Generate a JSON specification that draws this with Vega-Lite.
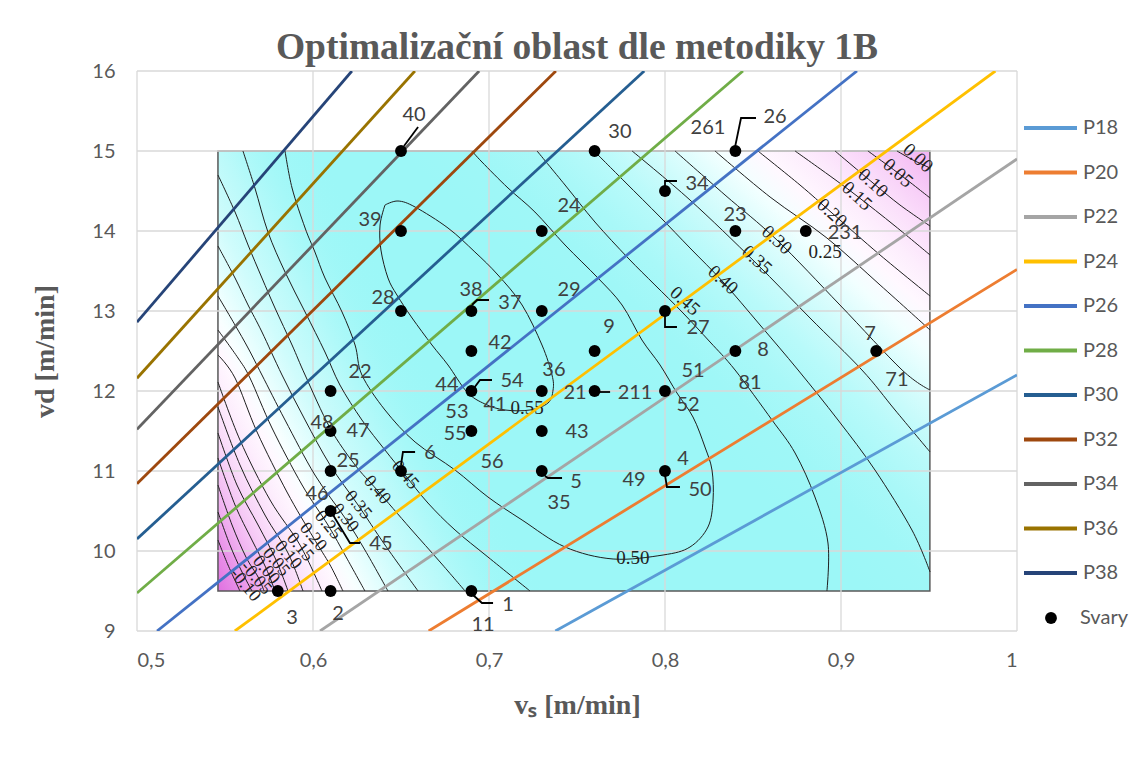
{
  "$schema": "https://vega.github.io/schema/vega-lite/v6.json",
  "width": 880,
  "height": 560,
  "autosize": {"type": "none"},
  "padding": {"left": 137, "top": 71, "right": 117, "bottom": 131},
  "background": "white",
  "config": {
    "view": {"stroke": null},
    "font": "Lato",
    "axis": {"grid": false, "ticks": false, "domain": false, "labelFont": "Lato", "labelFontSize": 20, "labelColor": "#595959",
      "titleFont": "Liberation Serif", "titleFontSize": 28, "titleFontWeight": "bold", "titleColor": "#595959"},
    "axisX": {"labelPadding": 19, "titlePadding": 21},
    "axisY": {"labelPadding": 22, "titlePadding": 32}
  },
  "title": {"text": "Optimalizační oblast dle metodiky 1B", "font": "Liberation Serif", "fontSize": 37.5, "fontWeight": "bold", "color": "#595959", "anchor": "middle", "offset": 0, "dy": 5},
  "datasets": {
    "heat": [{"x": 0.546, "x2": 0.9505, "y": 9.5, "y2": 15}],
    "heat2": [{"x": 0.546, "x2": 0.7483, "y": 9.5, "y2": 15}],
    "gx": [{"v": 0.5}, {"v": 0.6}, {"v": 0.7}, {"v": 0.8}, {"v": 0.9}, {"v": 1.0}],
    "gy": [{"v": 9}, {"v": 10}, {"v": 11}, {"v": 12}, {"v": 13}, {"v": 14}, {"v": 15}, {"v": 16}],
    "cont": [
      {"c": "c55", "o": 1, "x": 0.6409, "y": 14.325}, {"c": "c55", "o": 2, "x": 0.6483, "y": 14.375}, {"c": "c55", "o": 3, "x": 0.658, "y": 14.3}, {"c": "c55", "o": 4, "x": 0.6767, "y": 14.0375}, {"c": "c55", "o": 5, "x": 0.692, "y": 13.7375}, {"c": "c55", "o": 6, "x": 0.7051, "y": 13.45}, {"c": "c55", "o": 7, "x": 0.7188, "y": 13.075}, {"c": "c55", "o": 8, "x": 0.7301, "y": 12.575}, {"c": "c55", "o": 9, "x": 0.7358, "y": 12.2}, {"c": "c55", "o": 10, "x": 0.7364, "y": 12.0125}, {"c": "c55", "o": 11, "x": 0.7335, "y": 11.85}, {"c": "c55", "o": 12, "x": 0.7233, "y": 11.7625}, {"c": "c55", "o": 13, "x": 0.7091, "y": 11.7625}, {"c": "c55", "o": 14, "x": 0.6977, "y": 11.8375}, {"c": "c55", "o": 15, "x": 0.6875, "y": 11.9875}, {"c": "c55", "o": 16, "x": 0.6767, "y": 12.325}, {"c": "c55", "o": 17, "x": 0.6676, "y": 12.575}, {"c": "c55", "o": 18, "x": 0.6563, "y": 12.9125}, {"c": "c55", "o": 19, "x": 0.6477, "y": 13.2}, {"c": "c55", "o": 20, "x": 0.6426, "y": 13.4125}, {"c": "c55", "o": 21, "x": 0.6386, "y": 13.7625}, {"c": "c55", "o": 22, "x": 0.6381, "y": 14.075}, {"c": "c55", "o": 23, "x": 0.6409, "y": 14.325},
      {"c": "c50", "o": 1, "x": 0.5841, "y": 15}, {"c": "c50", "o": 2, "x": 0.5881, "y": 14.5375}, {"c": "c50", "o": 3, "x": 0.5955, "y": 14.0375}, {"c": "c50", "o": 4, "x": 0.6011, "y": 13.7375}, {"c": "c50", "o": 5, "x": 0.6068, "y": 13.4125}, {"c": "c50", "o": 6, "x": 0.6165, "y": 12.9875}, {"c": "c50", "o": 7, "x": 0.6239, "y": 12.575}, {"c": "c50", "o": 8, "x": 0.6278, "y": 12.2}, {"c": "c50", "o": 9, "x": 0.6409, "y": 11.7625}, {"c": "c50", "o": 10, "x": 0.658, "y": 11.3625}, {"c": "c50", "o": 11, "x": 0.6807, "y": 11.0125}, {"c": "c50", "o": 12, "x": 0.6994, "y": 10.675}, {"c": "c50", "o": 13, "x": 0.7188, "y": 10.3875}, {"c": "c50", "o": 14, "x": 0.7432, "y": 10.05}, {"c": "c50", "o": 15, "x": 0.7705, "y": 9.9}, {"c": "c50", "o": 16, "x": 0.7989, "y": 9.95}, {"c": "c50", "o": 17, "x": 0.8142, "y": 10.05}, {"c": "c50", "o": 18, "x": 0.8244, "y": 10.3}, {"c": "c50", "o": 19, "x": 0.8273, "y": 10.6375}, {"c": "c50", "o": 20, "x": 0.8267, "y": 11.0125}, {"c": "c50", "o": 21, "x": 0.8227, "y": 11.3}, {"c": "c50", "o": 22, "x": 0.8159, "y": 11.675}, {"c": "c50", "o": 23, "x": 0.8068, "y": 11.975}, {"c": "c50", "o": 24, "x": 0.7972, "y": 12.325}, {"c": "c50", "o": 25, "x": 0.7869, "y": 12.6375}, {"c": "c50", "o": 26, "x": 0.7756, "y": 13.075}, {"c": "c50", "o": 27, "x": 0.7619, "y": 13.4125}, {"c": "c50", "o": 28, "x": 0.7432, "y": 13.825}, {"c": "c50", "o": 29, "x": 0.7261, "y": 14.2375}, {"c": "c50", "o": 30, "x": 0.7108, "y": 14.5375}, {"c": "c50", "o": 31, "x": 0.696, "y": 14.8625}, {"c": "c50", "o": 32, "x": 0.6903, "y": 15},
      {"c": "a45", "o": 1, "x": 0.5602, "y": 15}, {"c": "a45", "o": 2, "x": 0.567, "y": 14.5375}, {"c": "a45", "o": 3, "x": 0.5744, "y": 13.9875}, {"c": "a45", "o": 4, "x": 0.5841, "y": 13.4875}, {"c": "a45", "o": 5, "x": 0.5955, "y": 12.9875}, {"c": "a45", "o": 6, "x": 0.6068, "y": 12.4875}, {"c": "a45", "o": 7, "x": 0.6153, "y": 12.075}, {"c": "a45", "o": 8, "x": 0.6278, "y": 11.6375}, {"c": "a45", "o": 9, "x": 0.6409, "y": 11.2625}, {"c": "a45", "o": 10, "x": 0.6523, "y": 10.95}, {"c": "a45", "o": 11, "x": 0.6653, "y": 10.6}, {"c": "a45", "o": 12, "x": 0.6807, "y": 10.2625}, {"c": "a45", "o": 13, "x": 0.6994, "y": 9.925}, {"c": "a45", "o": 14, "x": 0.7233, "y": 9.5},
      {"c": "b45", "o": 1, "x": 0.7273, "y": 15}, {"c": "b45", "o": 2, "x": 0.7432, "y": 14.575}, {"c": "b45", "o": 3, "x": 0.7602, "y": 14.1125}, {"c": "b45", "o": 4, "x": 0.779, "y": 13.6625}, {"c": "b45", "o": 5, "x": 0.7943, "y": 13.325}, {"c": "b45", "o": 6, "x": 0.8097, "y": 12.9875}, {"c": "b45", "o": 7, "x": 0.8256, "y": 12.6125}, {"c": "b45", "o": 8, "x": 0.8398, "y": 12.2625}, {"c": "b45", "o": 9, "x": 0.8608, "y": 11.6375}, {"c": "b45", "o": 10, "x": 0.8739, "y": 11.225}, {"c": "b45", "o": 11, "x": 0.8852, "y": 10.675}, {"c": "b45", "o": 12, "x": 0.8926, "y": 10.1}, {"c": "b45", "o": 13, "x": 0.892, "y": 9.5},
      {"c": "b40", "o": 1, "x": 0.7597, "y": 15}, {"c": "b40", "o": 2, "x": 0.7773, "y": 14.6125}, {"c": "b40", "o": 3, "x": 0.7972, "y": 14.175}, {"c": "b40", "o": 4, "x": 0.8142, "y": 13.7875}, {"c": "b40", "o": 5, "x": 0.833, "y": 13.3625}, {"c": "b40", "o": 6, "x": 0.854, "y": 12.825}, {"c": "b40", "o": 7, "x": 0.8756, "y": 12.2625}, {"c": "b40", "o": 8, "x": 0.8983, "y": 11.6375}, {"c": "b40", "o": 9, "x": 0.9193, "y": 11.0125}, {"c": "b40", "o": 10, "x": 0.9403, "y": 10.2625}, {"c": "b40", "o": 11, "x": 0.9506, "y": 9.7375},
      {"c": "b35", "o": 1, "x": 0.7813, "y": 15}, {"c": "b35", "o": 2, "x": 0.8142, "y": 14.3875}, {"c": "b35", "o": 3, "x": 0.8511, "y": 13.6125}, {"c": "b35", "o": 4, "x": 0.8824, "y": 12.9125}, {"c": "b35", "o": 5, "x": 0.9119, "y": 12.2625}, {"c": "b35", "o": 6, "x": 0.9307, "y": 11.7625}, {"c": "b35", "o": 7, "x": 0.9506, "y": 11.2375},
      {"c": "b30", "o": 1, "x": 0.8057, "y": 15}, {"c": "b30", "o": 2, "x": 0.8341, "y": 14.45}, {"c": "b30", "o": 3, "x": 0.8636, "y": 13.8875}, {"c": "b30", "o": 4, "x": 0.8994, "y": 13.075}, {"c": "b30", "o": 5, "x": 0.9347, "y": 12.2625}, {"c": "b30", "o": 6, "x": 0.9506, "y": 12.0125},
      {"c": "b25", "o": 1, "x": 0.8284, "y": 15}, {"c": "b25", "o": 2, "x": 0.8597, "y": 14.425}, {"c": "b25", "o": 3, "x": 0.892, "y": 13.9125}, {"c": "b25", "o": 4, "x": 0.9222, "y": 13.325}, {"c": "b25", "o": 5, "x": 0.9506, "y": 12.7625},
      {"c": "b20", "o": 1, "x": 0.8528, "y": 15}, {"c": "b20", "o": 2, "x": 0.8767, "y": 14.575}, {"c": "b20", "o": 3, "x": 0.8949, "y": 14.225}, {"c": "b20", "o": 4, "x": 0.9222, "y": 13.7}, {"c": "b20", "o": 5, "x": 0.9506, "y": 13.1875},
      {"c": "b15", "o": 1, "x": 0.8739, "y": 15}, {"c": "b15", "o": 2, "x": 0.8938, "y": 14.6875}, {"c": "b15", "o": 3, "x": 0.9091, "y": 14.4375}, {"c": "b15", "o": 4, "x": 0.9307, "y": 14.0625}, {"c": "b15", "o": 5, "x": 0.9506, "y": 13.7},
      {"c": "b10", "o": 1, "x": 0.8966, "y": 15}, {"c": "b10", "o": 2, "x": 0.9182, "y": 14.6}, {"c": "b10", "o": 3, "x": 0.9335, "y": 14.325}, {"c": "b10", "o": 4, "x": 0.9506, "y": 14.0625},
      {"c": "b05", "o": 1, "x": 0.9153, "y": 15}, {"c": "b05", "o": 2, "x": 0.9324, "y": 14.725}, {"c": "b05", "o": 3, "x": 0.9506, "y": 14.4125},
      {"c": "b00", "o": 1, "x": 0.9318, "y": 15}, {"c": "b00", "o": 2, "x": 0.9409, "y": 14.8875}, {"c": "b00", "o": 3, "x": 0.9506, "y": 14.7875},
      {"c": "a40", "o": 1, "x": 0.546, "y": 14.7}, {"c": "a40", "o": 2, "x": 0.5557, "y": 14.2375}, {"c": "a40", "o": 3, "x": 0.5631, "y": 13.825}, {"c": "a40", "o": 4, "x": 0.571, "y": 13.4125}, {"c": "a40", "o": 5, "x": 0.5784, "y": 13.0375}, {"c": "a40", "o": 6, "x": 0.5881, "y": 12.575}, {"c": "a40", "o": 7, "x": 0.5955, "y": 12.2}, {"c": "a40", "o": 8, "x": 0.6097, "y": 11.5375}, {"c": "a40", "o": 9, "x": 0.6239, "y": 11.075}, {"c": "a40", "o": 10, "x": 0.6364, "y": 10.7625}, {"c": "a40", "o": 11, "x": 0.6551, "y": 10.2875}, {"c": "a40", "o": 12, "x": 0.6722, "y": 9.8625}, {"c": "a40", "o": 13, "x": 0.6864, "y": 9.5},
      {"c": "a35", "o": 1, "x": 0.546, "y": 13.8125}, {"c": "a35", "o": 2, "x": 0.5557, "y": 13.4125}, {"c": "a35", "o": 3, "x": 0.5631, "y": 13.075}, {"c": "a35", "o": 4, "x": 0.571, "y": 12.7375}, {"c": "a35", "o": 5, "x": 0.5824, "y": 12.2}, {"c": "a35", "o": 6, "x": 0.5955, "y": 11.6375}, {"c": "a35", "o": 7, "x": 0.6097, "y": 11.075}, {"c": "a35", "o": 8, "x": 0.6256, "y": 10.575}, {"c": "a35", "o": 9, "x": 0.6409, "y": 10.075}, {"c": "a35", "o": 10, "x": 0.6597, "y": 9.5},
      {"c": "a30", "o": 1, "x": 0.546, "y": 13.1875}, {"c": "a30", "o": 2, "x": 0.5557, "y": 12.825}, {"c": "a30", "o": 3, "x": 0.5631, "y": 12.5375}, {"c": "a30", "o": 4, "x": 0.571, "y": 12.2}, {"c": "a30", "o": 5, "x": 0.5841, "y": 11.6375}, {"c": "a30", "o": 6, "x": 0.6011, "y": 10.95}, {"c": "a30", "o": 7, "x": 0.6182, "y": 10.4125}, {"c": "a30", "o": 8, "x": 0.6295, "y": 10.0125}, {"c": "a30", "o": 9, "x": 0.6426, "y": 9.5},
      {"c": "a25", "o": 1, "x": 0.546, "y": 12.7625}, {"c": "a25", "o": 2, "x": 0.5574, "y": 12.4125}, {"c": "a25", "o": 3, "x": 0.5642, "y": 12.1625}, {"c": "a25", "o": 4, "x": 0.5767, "y": 11.5375}, {"c": "a25", "o": 5, "x": 0.5938, "y": 10.825}, {"c": "a25", "o": 6, "x": 0.6085, "y": 10.325}, {"c": "a25", "o": 7, "x": 0.6188, "y": 9.925}, {"c": "a25", "o": 8, "x": 0.6295, "y": 9.5},
      {"c": "a20", "o": 1, "x": 0.546, "y": 12.45}, {"c": "a20", "o": 2, "x": 0.5557, "y": 12.1625}, {"c": "a20", "o": 3, "x": 0.5682, "y": 11.4875}, {"c": "a20", "o": 4, "x": 0.5852, "y": 10.7375}, {"c": "a20", "o": 5, "x": 0.6, "y": 10.175}, {"c": "a20", "o": 6, "x": 0.6097, "y": 9.825}, {"c": "a20", "o": 7, "x": 0.617, "y": 9.5},
      {"c": "a15", "o": 1, "x": 0.546, "y": 12.1125}, {"c": "a15", "o": 2, "x": 0.5585, "y": 11.3875}, {"c": "a15", "o": 3, "x": 0.5756, "y": 10.6375}, {"c": "a15", "o": 4, "x": 0.5926, "y": 10.075}, {"c": "a15", "o": 5, "x": 0.6051, "y": 9.5},
      {"c": "a10", "o": 1, "x": 0.546, "y": 11.8}, {"c": "a10", "o": 2, "x": 0.5585, "y": 11.075}, {"c": "a10", "o": 3, "x": 0.5727, "y": 10.45}, {"c": "a10", "o": 4, "x": 0.5858, "y": 9.975}, {"c": "a10", "o": 5, "x": 0.5943, "y": 9.5},
      {"c": "a05", "o": 1, "x": 0.546, "y": 11.475}, {"c": "a05", "o": 2, "x": 0.5568, "y": 10.825}, {"c": "a05", "o": 3, "x": 0.5688, "y": 10.325}, {"c": "a05", "o": 4, "x": 0.579, "y": 9.8875}, {"c": "a05", "o": 5, "x": 0.5858, "y": 9.5},
      {"c": "a00", "o": 1, "x": 0.546, "y": 11.1625}, {"c": "a00", "o": 2, "x": 0.5557, "y": 10.575}, {"c": "a00", "o": 3, "x": 0.5653, "y": 10.1375}, {"c": "a00", "o": 4, "x": 0.5733, "y": 9.7875}, {"c": "a00", "o": 5, "x": 0.5784, "y": 9.5},
      {"c": "am05", "o": 1, "x": 0.546, "y": 10.825}, {"c": "am05", "o": 2, "x": 0.554, "y": 10.325}, {"c": "am05", "o": 3, "x": 0.5619, "y": 9.925}, {"c": "am05", "o": 4, "x": 0.5688, "y": 9.675}, {"c": "am05", "o": 5, "x": 0.5722, "y": 9.5},
      {"c": "am10", "o": 1, "x": 0.546, "y": 10.4875}, {"c": "am10", "o": 2, "x": 0.5528, "y": 10.075}, {"c": "am10", "o": 3, "x": 0.5591, "y": 9.7625}, {"c": "am10", "o": 4, "x": 0.5653, "y": 9.5},
      {"c": "am15", "o": 1, "x": 0.546, "y": 10.1375}, {"c": "am15", "o": 2, "x": 0.5517, "y": 9.825}, {"c": "am15", "o": 3, "x": 0.5585, "y": 9.5}
    ],
    "clab": [
      {"g": "ll", "l": "0.45", "x": 0.6523, "y": 10.95}, {"g": "ll", "l": "0.40", "x": 0.6364, "y": 10.7625}, {"g": "ll", "l": "0.35", "x": 0.6256, "y": 10.575}, {"g": "ll", "l": "0.30", "x": 0.6182, "y": 10.4125}, {"g": "ll", "l": "0.25", "x": 0.6085, "y": 10.325}, {"g": "ll", "l": "0.20", "x": 0.6, "y": 10.175}, {"g": "ll", "l": "0.15", "x": 0.5926, "y": 10.05}, {"g": "ll", "l": "0.10", "x": 0.5858, "y": 9.95}, {"g": "ll", "l": "0.05", "x": 0.579, "y": 9.8625}, {"g": "ll", "l": "0.00", "x": 0.5733, "y": 9.7625}, {"g": "ll", "l": "-0.05", "x": 0.5676, "y": 9.6625}, {"g": "ll", "l": "-0.10", "x": 0.5614, "y": 9.575},
      {"g": "ur", "l": "0.45", "x": 0.8114, "y": 13.125}, {"g": "ur", "l": "0.40", "x": 0.833, "y": 13.3875}, {"g": "ur", "l": "0.35", "x": 0.8523, "y": 13.6375}, {"g": "ur", "l": "0.30", "x": 0.8636, "y": 13.8875}, {"g": "ur", "l": "0.20", "x": 0.8949, "y": 14.225}, {"g": "ur", "l": "0.15", "x": 0.9091, "y": 14.4375}, {"g": "ur", "l": "0.10", "x": 0.9182, "y": 14.6}, {"g": "ur", "l": "0.05", "x": 0.9324, "y": 14.725}, {"g": "ur", "l": "0.00", "x": 0.9438, "y": 14.9125},
      {"g": "h", "l": "0.25", "x": 0.891, "y": 13.74}, {"g": "h", "l": "0.50", "x": 0.7818, "y": 9.9125}, {"g": "h", "l": "0.55", "x": 0.7216, "y": 11.7875}
    ],
    "pl": [
      {"s": "P18", "x": 0.7377, "y": 9}, {"s": "P18", "x": 1, "y": 12.2},
      {"s": "P20", "x": 0.6657, "y": 9}, {"s": "P20", "x": 1, "y": 13.52},
      {"s": "P22", "x": 0.604, "y": 9}, {"s": "P22", "x": 1, "y": 14.9},
      {"s": "P24", "x": 0.5556, "y": 9}, {"s": "P24", "x": 0.9877, "y": 16},
      {"s": "P26", "x": 0.5114, "y": 9}, {"s": "P26", "x": 0.9091, "y": 16},
      {"s": "P28", "x": 0.5, "y": 9.475}, {"s": "P28", "x": 0.8443, "y": 16},
      {"s": "P30", "x": 0.5, "y": 10.15}, {"s": "P30", "x": 0.7882, "y": 16},
      {"s": "P32", "x": 0.5, "y": 10.84}, {"s": "P32", "x": 0.738, "y": 16},
      {"s": "P34", "x": 0.5, "y": 11.52}, {"s": "P34", "x": 0.6944, "y": 16},
      {"s": "P36", "x": 0.5, "y": 12.16}, {"s": "P36", "x": 0.6579, "y": 16},
      {"s": "P38", "x": 0.5, "y": 12.86}, {"s": "P38", "x": 0.6221, "y": 16}
    ],
    "lead": [
      {"k": "L40", "o": 1, "x": 0.6517, "y": 15.0625}, {"k": "L40", "o": 2, "x": 0.6597, "y": 15.3},
      {"k": "L26", "o": 1, "x": 0.8398, "y": 15.05}, {"k": "L26", "o": 2, "x": 0.8432, "y": 15.4125}, {"k": "L26", "o": 3, "x": 0.8517, "y": 15.4125},
      {"k": "L34", "o": 1, "x": 0.8, "y": 14.5375}, {"k": "L34", "o": 2, "x": 0.8, "y": 14.625}, {"k": "L34", "o": 3, "x": 0.8068, "y": 14.625},
      {"k": "L37", "o": 1, "x": 0.6903, "y": 13.075}, {"k": "L37", "o": 2, "x": 0.6932, "y": 13.1375}, {"k": "L37", "o": 3, "x": 0.7, "y": 13.1375},
      {"k": "L27", "o": 1, "x": 0.8, "y": 12.9375}, {"k": "L27", "o": 2, "x": 0.8, "y": 12.8}, {"k": "L27", "o": 3, "x": 0.8068, "y": 12.8},
      {"k": "L54", "o": 1, "x": 0.6915, "y": 12.0375}, {"k": "L54", "o": 2, "x": 0.6949, "y": 12.1375}, {"k": "L54", "o": 3, "x": 0.7017, "y": 12.1375},
      {"k": "L211", "o": 1, "x": 0.7602, "y": 11.9875}, {"k": "L211", "o": 2, "x": 0.7688, "y": 11.9875},
      {"k": "L6", "o": 1, "x": 0.65, "y": 11.075}, {"k": "L6", "o": 2, "x": 0.6511, "y": 11.2375}, {"k": "L6", "o": 3, "x": 0.658, "y": 11.2375},
      {"k": "L5", "o": 1, "x": 0.7318, "y": 10.9375}, {"k": "L5", "o": 2, "x": 0.7335, "y": 10.9125}, {"k": "L5", "o": 3, "x": 0.7415, "y": 10.9125},
      {"k": "L50", "o": 1, "x": 0.8, "y": 10.95}, {"k": "L50", "o": 2, "x": 0.8011, "y": 10.8}, {"k": "L50", "o": 3, "x": 0.8085, "y": 10.8},
      {"k": "L45", "o": 1, "x": 0.6114, "y": 10.45}, {"k": "L45", "o": 2, "x": 0.621, "y": 10.1}, {"k": "L45", "o": 3, "x": 0.6267, "y": 10.1},
      {"k": "L1", "o": 1, "x": 0.6903, "y": 9.4625}, {"k": "L1", "o": 2, "x": 0.696, "y": 9.35}, {"k": "L1", "o": 3, "x": 0.7023, "y": 9.35}
    ],
    "pts": [
      {"t": "Svary", "x": 0.65, "y": 15}, {"t": "Svary", "x": 0.76, "y": 15}, {"t": "Svary", "x": 0.84, "y": 15}, {"t": "Svary", "x": 0.8, "y": 14.5},
      {"t": "Svary", "x": 0.65, "y": 14}, {"t": "Svary", "x": 0.73, "y": 14}, {"t": "Svary", "x": 0.84, "y": 14}, {"t": "Svary", "x": 0.88, "y": 14},
      {"t": "Svary", "x": 0.65, "y": 13}, {"t": "Svary", "x": 0.69, "y": 13}, {"t": "Svary", "x": 0.73, "y": 13}, {"t": "Svary", "x": 0.8, "y": 13},
      {"t": "Svary", "x": 0.69, "y": 12.5}, {"t": "Svary", "x": 0.76, "y": 12.5}, {"t": "Svary", "x": 0.84, "y": 12.5}, {"t": "Svary", "x": 0.92, "y": 12.5},
      {"t": "Svary", "x": 0.61, "y": 12}, {"t": "Svary", "x": 0.69, "y": 12}, {"t": "Svary", "x": 0.73, "y": 12}, {"t": "Svary", "x": 0.76, "y": 12}, {"t": "Svary", "x": 0.8, "y": 12},
      {"t": "Svary", "x": 0.61, "y": 11.5}, {"t": "Svary", "x": 0.69, "y": 11.5}, {"t": "Svary", "x": 0.73, "y": 11.5},
      {"t": "Svary", "x": 0.61, "y": 11}, {"t": "Svary", "x": 0.65, "y": 11}, {"t": "Svary", "x": 0.73, "y": 11}, {"t": "Svary", "x": 0.8, "y": 11},
      {"t": "Svary", "x": 0.61, "y": 10.5}, {"t": "Svary", "x": 0.58, "y": 9.5}, {"t": "Svary", "x": 0.61, "y": 9.5}, {"t": "Svary", "x": 0.69, "y": 9.5}
    ],
    "plab": [
      {"l": "40", "x": 0.6574, "y": 15.45}, {"l": "30", "x": 0.7744, "y": 15.2375}, {"l": "261", "x": 0.8244, "y": 15.2875}, {"l": "26", "x": 0.8625, "y": 15.425},
      {"l": "34", "x": 0.8182, "y": 14.5875}, {"l": "39", "x": 0.6324, "y": 14.1375}, {"l": "24", "x": 0.7455, "y": 14.3125}, {"l": "23", "x": 0.8398, "y": 14.2},
      {"l": "231", "x": 0.9023, "y": 13.975}, {"l": "28", "x": 0.6398, "y": 13.1625}, {"l": "38", "x": 0.6898, "y": 13.2625}, {"l": "37", "x": 0.7119, "y": 13.1},
      {"l": "29", "x": 0.7455, "y": 13.2625}, {"l": "27", "x": 0.8188, "y": 12.7875}, {"l": "42", "x": 0.7063, "y": 12.6}, {"l": "9", "x": 0.7682, "y": 12.8},
      {"l": "8", "x": 0.8557, "y": 12.5125}, {"l": "7", "x": 0.9165, "y": 12.7125}, {"l": "22", "x": 0.6267, "y": 12.2375}, {"l": "36", "x": 0.7369, "y": 12.2625},
      {"l": "51", "x": 0.8159, "y": 12.25}, {"l": "81", "x": 0.8483, "y": 12.1}, {"l": "71", "x": 0.9318, "y": 12.1375}, {"l": "44", "x": 0.6761, "y": 12.075},
      {"l": "54", "x": 0.7131, "y": 12.125}, {"l": "21", "x": 0.7489, "y": 11.975}, {"l": "211", "x": 0.783, "y": 11.975}, {"l": "52", "x": 0.8131, "y": 11.825},
      {"l": "53", "x": 0.6818, "y": 11.7375}, {"l": "41", "x": 0.7034, "y": 11.825}, {"l": "48", "x": 0.6051, "y": 11.6}, {"l": "47", "x": 0.6256, "y": 11.5},
      {"l": "55", "x": 0.6807, "y": 11.4625}, {"l": "43", "x": 0.75, "y": 11.4875}, {"l": "25", "x": 0.6199, "y": 11.125}, {"l": "6", "x": 0.6665, "y": 11.225},
      {"l": "56", "x": 0.7017, "y": 11.1125}, {"l": "4", "x": 0.8102, "y": 11.15}, {"l": "49", "x": 0.7824, "y": 10.8875}, {"l": "5", "x": 0.7494, "y": 10.8625},
      {"l": "50", "x": 0.8199, "y": 10.7625}, {"l": "46", "x": 0.6023, "y": 10.7125}, {"l": "35", "x": 0.7398, "y": 10.6}, {"l": "45", "x": 0.6386, "y": 10.0875},
      {"l": "1", "x": 0.7108, "y": 9.325}, {"l": "2", "x": 0.6142, "y": 9.2125}, {"l": "3", "x": 0.5881, "y": 9.1625}, {"l": "11", "x": 0.6966, "y": 9.075}
    ]
  },
  "layer": [
    {
      "data": {"name": "heat"},
      "mark": {
        "type": "rect",
        "fill": {"gradient": "linear", "x1": 0, "y1": 1, "x2": 1.157, "y2": 0.239, "stops": [
          {"offset": 0, "color": "#9cf7f7"}, {"offset": 0.55, "color": "#9cf7f7"}, {"offset": 0.612, "color": "#9ff7f7"}, {"offset": 0.667, "color": "#a9f8f8"},
          {"offset": 0.715, "color": "#b8fafa"}, {"offset": 0.748, "color": "#c8fbfb"}, {"offset": 0.784, "color": "#dcfdfd"}, {"offset": 0.818, "color": "#f2ffff"},
          {"offset": 0.854, "color": "#fff8ff"}, {"offset": 0.886, "color": "#fdeefd"}, {"offset": 0.92, "color": "#fbe0fb"}, {"offset": 0.948, "color": "#f8d2f8"},
          {"offset": 0.972, "color": "#f5c4f5"}, {"offset": 1, "color": "#f2b2f2"}
        ]}
      },
      "encoding": {
        "x": {"field": "x", "type": "quantitative", "scale": {"domain": [0.5, 1], "nice": false, "zero": false},
          "axis": {"values": [0.5, 0.6, 0.7, 0.8, 0.9, 1], "labelExpr": "datum.value == 1 ? '1' : replace(format(datum.value, '.1f'), '.', ',')", "title": "vₛ [m/min]"}},
        "x2": {"field": "x2"},
        "y": {"field": "y", "type": "quantitative", "scale": {"domain": [9, 16], "nice": false, "zero": false},
          "axis": {"values": [9, 10, 11, 12, 13, 14, 15, 16], "format": "d", "title": "vd [m/min]"}},
        "y2": {"field": "y2"}
      }
    },
    {
      "data": {"name": "heat2"},
      "mark": {
        "type": "rect",
        "fill": {"gradient": "linear", "x1": 0, "y1": 1, "x2": 0.7227, "y2": 0.5523, "stops": [
          {"offset": 0, "color": "#e070e0"}, {"offset": 0.067, "color": "#e890e8"}, {"offset": 0.104, "color": "#eda5ed"}, {"offset": 0.14, "color": "#f2b8f2"},
          {"offset": 0.174, "color": "#f5c8f5"}, {"offset": 0.21, "color": "#f8d6f8"}, {"offset": 0.25, "color": "#fbe3fb"}, {"offset": 0.292, "color": "#fdeefd"},
          {"offset": 0.343, "color": "#fff8ff"}, {"offset": 0.39, "color": "#f8ffff"}, {"offset": 0.447, "color": "#e6fefe"}, {"offset": 0.522, "color": "#d0fcfc"},
          {"offset": 0.64, "color": "rgba(188,250,250,0.9)"}, {"offset": 0.787, "color": "rgba(166,248,248,0.45)"}, {"offset": 0.927, "color": "rgba(156,247,247,0)"}, {"offset": 1, "color": "rgba(156,247,247,0)"}
        ]}
      },
      "encoding": {
        "x": {"field": "x", "type": "quantitative", "scale": {"domain": [0.5, 1], "nice": false, "zero": false}},
        "x2": {"field": "x2"},
        "y": {"field": "y", "type": "quantitative", "scale": {"domain": [9, 16], "nice": false, "zero": false}},
        "y2": {"field": "y2"}
      }
    },
    {
      "data": {"name": "heat"},
      "mark": {"type": "rect", "fillOpacity": 0, "stroke": "#595959", "strokeWidth": 1.5},
      "encoding": {
        "x": {"field": "x", "type": "quantitative", "scale": {"domain": [0.5, 1], "nice": false, "zero": false}},
        "x2": {"field": "x2"},
        "y": {"field": "y", "type": "quantitative", "scale": {"domain": [9, 16], "nice": false, "zero": false}},
        "y2": {"field": "y2"}
      }
    },
    {
      "data": {"name": "gx"},
      "mark": {"type": "rule", "color": "#d9d9d9", "strokeWidth": 1.3},
      "encoding": {"x": {"field": "v", "type": "quantitative", "scale": {"domain": [0.5, 1], "nice": false, "zero": false}}}
    },
    {
      "data": {"name": "gy"},
      "mark": {"type": "rule", "color": "#d9d9d9", "strokeWidth": 1.3},
      "encoding": {"y": {"field": "v", "type": "quantitative", "scale": {"domain": [9, 16], "nice": false, "zero": false}}}
    },
    {
      "data": {"name": "cont"},
      "mark": {"type": "line", "color": "#1e1e1e", "strokeWidth": 1, "interpolate": "cardinal"},
      "encoding": {
        "x": {"field": "x", "type": "quantitative", "scale": {"domain": [0.5, 1], "nice": false, "zero": false}},
        "y": {"field": "y", "type": "quantitative", "scale": {"domain": [9, 16], "nice": false, "zero": false}},
        "detail": {"field": "c"},
        "order": {"field": "o"}
      }
    },
    {
      "data": {"name": "clab"},
      "transform": [{"filter": "datum.g == 'll'"}],
      "mark": {"type": "text", "angle": 50, "font": "Liberation Serif", "fontSize": 18, "color": "#222222"},
      "encoding": {
        "x": {"field": "x", "type": "quantitative", "scale": {"domain": [0.5, 1], "nice": false, "zero": false}},
        "y": {"field": "y", "type": "quantitative", "scale": {"domain": [9, 16], "nice": false, "zero": false}},
        "text": {"field": "l"}
      }
    },
    {
      "data": {"name": "clab"},
      "transform": [{"filter": "datum.g == 'ur'"}],
      "mark": {"type": "text", "angle": 42, "font": "Liberation Serif", "fontSize": 19, "color": "#222222"},
      "encoding": {
        "x": {"field": "x", "type": "quantitative", "scale": {"domain": [0.5, 1], "nice": false, "zero": false}},
        "y": {"field": "y", "type": "quantitative", "scale": {"domain": [9, 16], "nice": false, "zero": false}},
        "text": {"field": "l"}
      }
    },
    {
      "data": {"name": "clab"},
      "transform": [{"filter": "datum.g == 'h'"}],
      "mark": {"type": "text", "angle": 0, "font": "Liberation Serif", "fontSize": 19, "color": "#222222"},
      "encoding": {
        "x": {"field": "x", "type": "quantitative", "scale": {"domain": [0.5, 1], "nice": false, "zero": false}},
        "y": {"field": "y", "type": "quantitative", "scale": {"domain": [9, 16], "nice": false, "zero": false}},
        "text": {"field": "l"}
      }
    },
    {
      "data": {"name": "pl"},
      "mark": {"type": "line", "strokeWidth": 2.8, "clip": true},
      "encoding": {
        "x": {"field": "x", "type": "quantitative", "scale": {"domain": [0.5, 1], "nice": false, "zero": false}},
        "y": {"field": "y", "type": "quantitative", "scale": {"domain": [9, 16], "nice": false, "zero": false}},
        "color": {"field": "s", "type": "nominal",
          "scale": {"domain": ["P18", "P20", "P22", "P24", "P26", "P28", "P30", "P32", "P34", "P36", "P38"],
                    "range": ["#5B9BD5", "#ED7D31", "#A5A5A5", "#FFC000", "#4472C4", "#70AD47", "#255E91", "#9E480E", "#636363", "#997300", "#264478"]},
          "legend": {"orient": "none", "legendX": 885, "legendY": 45, "title": null, "symbolType": "stroke", "symbolSize": 2809, "symbolStrokeWidth": 4,
            "clipHeight": 24, "rowPadding": 20.5, "labelOffset": 4, "labelFont": "Lato", "labelFontSize": 20, "labelColor": "#595959", "padding": 0}}
      }
    },
    {
      "data": {"name": "lead"},
      "mark": {"type": "line", "color": "black", "strokeWidth": 1.8},
      "encoding": {
        "x": {"field": "x", "type": "quantitative", "scale": {"domain": [0.5, 1], "nice": false, "zero": false}},
        "y": {"field": "y", "type": "quantitative", "scale": {"domain": [9, 16], "nice": false, "zero": false}},
        "detail": {"field": "k"},
        "order": {"field": "o"}
      }
    },
    {
      "data": {"name": "pts"},
      "mark": {"type": "point", "filled": true, "size": 140, "color": "black", "opacity": 1},
      "encoding": {
        "x": {"field": "x", "type": "quantitative", "scale": {"domain": [0.5, 1], "nice": false, "zero": false}},
        "y": {"field": "y", "type": "quantitative", "scale": {"domain": [9, 16], "nice": false, "zero": false}},
        "shape": {"field": "t", "type": "nominal", "scale": {"range": ["circle"]},
          "legend": {"orient": "none", "legendX": 904, "legendY": 535, "title": null, "symbolType": "circle", "symbolSize": 140, "symbolFillColor": "black", "symbolStrokeColor": "black", "symbolOpacity": 1,
            "clipHeight": 24, "labelOffset": 19, "labelFont": "Lato", "labelFontSize": 20, "labelColor": "#595959", "padding": 0}}
      }
    },
    {
      "data": {"name": "plab"},
      "mark": {"type": "text", "font": "Lato", "fontSize": 20, "color": "#404040"},
      "encoding": {
        "x": {"field": "x", "type": "quantitative", "scale": {"domain": [0.5, 1], "nice": false, "zero": false}},
        "y": {"field": "y", "type": "quantitative", "scale": {"domain": [9, 16], "nice": false, "zero": false}},
        "text": {"field": "l"}
      }
    }
  ]
}
